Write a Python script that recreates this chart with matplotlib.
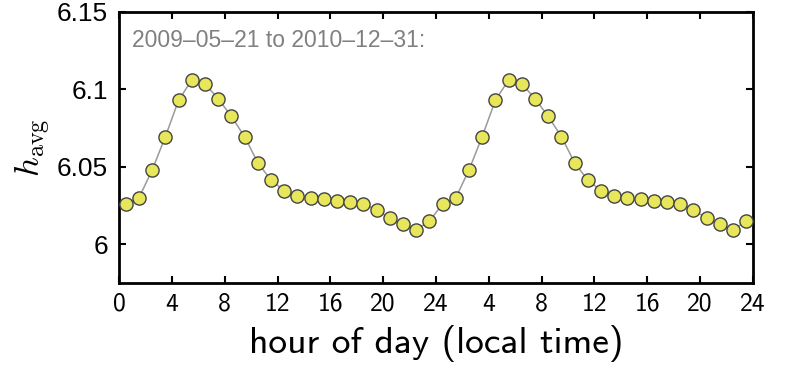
import numpy as np
import matplotlib
matplotlib.use("Agg")
import matplotlib.pyplot as plt

# two consecutive days, one point per hour (centred on the half hour)
hours = np.arange(48) + 0.5
h_avg = [6.026, 6.030, 6.048, 6.0695, 6.093, 6.106, 6.1035, 6.094,
         6.0825, 6.0695, 6.0526, 6.0414, 6.0347, 6.0313, 6.0297, 6.029,
         6.028, 6.027, 6.026, 6.0223, 6.0167, 6.0128, 6.0093, 6.015,
         6.026, 6.030, 6.048, 6.0695, 6.093, 6.106, 6.1035, 6.094,
         6.0825, 6.0695, 6.0526, 6.0414, 6.0347, 6.0313, 6.0297, 6.029,
         6.028, 6.027, 6.026, 6.0223, 6.0167, 6.0128, 6.0093, 6.015]

xtick_pos = [0, 4, 8, 12, 16, 20, 24, 28, 32, 36, 40, 44, 48]
xtick_labels = ["0", "4", "8", "12", "16", "20", "24", "4", "8", "12", "16", "20", "24"]
ytick_pos = [6.0, 6.05, 6.1, 6.15]
ytick_labels = ["6", "6.05", "6.1", "6.15"]
period_text = "2009\u201205\u201221 to 2010\u201212\u201231:"

plt.rcParams["mathtext.fontset"] = "cm"

fig = plt.figure(figsize=(8, 3.7), dpi=100)
ax = fig.add_axes([0.149, 0.235, 0.792, 0.733])

ax.plot(hours, h_avg, color="#9a9a9a", lw=1.1, zorder=2)
ax.plot(hours, h_avg, "o", ms=9.5, mfc="#e8e65a", mec="#444444", mew=1.0, zorder=3)

ax.set_xlim(0, 48)
ax.set_ylim(5.975, 6.15)
ax.set_xticks(xtick_pos)
ax.set_xticklabels(xtick_labels, family="cmss10", fontsize=18.5)
ax.set_yticks(ytick_pos)
ax.set_yticklabels(ytick_labels, family="Liberation Sans", fontsize=19)

ax.tick_params(direction="in", length=5, width=1.5, top=True, right=True, pad=7)
ax.tick_params(axis="y", pad=8)
for s in ax.spines.values():
    s.set_linewidth(2)

ax.set_xlabel("hour of day (local time)", family="cmss10", fontsize=27, labelpad=7)
ax.set_ylabel(r"$h_{\rm avg}$", fontsize=25, labelpad=3)

ax.text(0.02, 0.87, period_text, transform=ax.transAxes, color="#808080",
        family="Liberation Sans", fontsize=16.5)

fig.savefig("out.png", dpi=100)
